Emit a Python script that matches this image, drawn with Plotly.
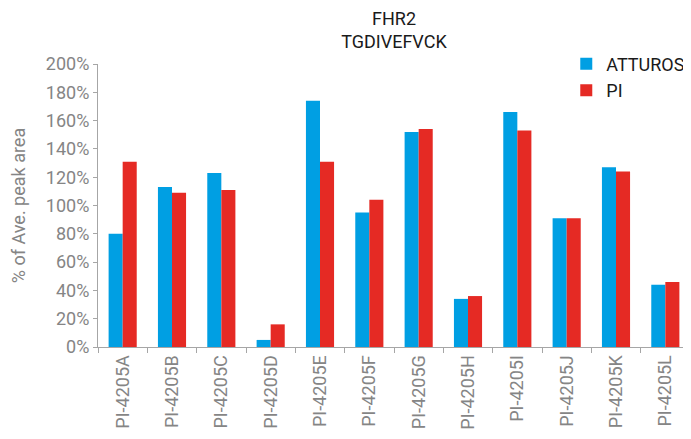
import plotly.graph_objects as go

categories = ["PI-4205A", "PI-4205B", "PI-4205C", "PI-4205D", "PI-4205E", "PI-4205F",
              "PI-4205G", "PI-4205H", "PI-4205I", "PI-4205J", "PI-4205K", "PI-4205L"]
atturos = [80, 113, 123, 5, 174, 95, 152, 34, 166, 91, 127, 44]
pi = [131, 109, 111, 16, 131, 104, 154, 36, 153, 91, 124, 46]
y_ticks = [0, 20, 40, 60, 80, 100, 120, 140, 160, 180, 200]
y_tick_labels = [f"{v}%" for v in y_ticks]

grey = "#858585"
fig = go.Figure()
fig.add_trace(go.Bar(x=categories, y=atturos, name="ATTUROS", marker_color="#009FE3",
                     marker_line_width=0))
fig.add_trace(go.Bar(x=categories, y=pi, name="PI", marker_color="#E52A24",
                     marker_line_width=0))

# page body has an 8px margin, so the figure is 8px smaller than the window
fig.update_layout(
    width=683, height=431,
    margin=dict(l=90, r=1, t=56, b=92, autoexpand=False),
    paper_bgcolor="white", plot_bgcolor="white",
    font=dict(family="Roboto", color=grey, size=18),
    title=dict(text="FHR2<br>TGDIVEFVCK", x=0.5, xref="paper", xanchor="center",
               y=0.9615, yref="container", yanchor="top",
               font=dict(family="Roboto", size=18, color="#1a1a1a")),
    barmode="group", bargap=0.43, bargroupgap=0,
    showlegend=True,
    legend=dict(x=0.791, y=1.065, xanchor="left", yanchor="top", bgcolor="rgba(0,0,0,0)",
                font=dict(size=18, color="#1a1a1a"), itemwidth=30, tracegroupgap=0,
                traceorder="normal"),
)
fig.update_xaxes(type="category", tickangle=-90, showline=True, linecolor="#a6a6a6",
                 ticks="outside", tickson="boundaries", ticklen=5, tickcolor="#a6a6a6",
                 tickfont=dict(size=18, color=grey), showgrid=False, automargin=False)
fig.update_yaxes(range=[0, 200], tickvals=y_ticks, ticktext=y_tick_labels,
                 showline=True, linecolor="#a6a6a6", ticks="outside", ticklen=4,
                 tickcolor="#a6a6a6", showgrid=False, zeroline=False, automargin=False,
                 tickfont=dict(size=18, color=grey),
                 title=dict(text="% of Ave. peak area", font=dict(size=18, color=grey), standoff=23))
fig.write_html("out.html")
